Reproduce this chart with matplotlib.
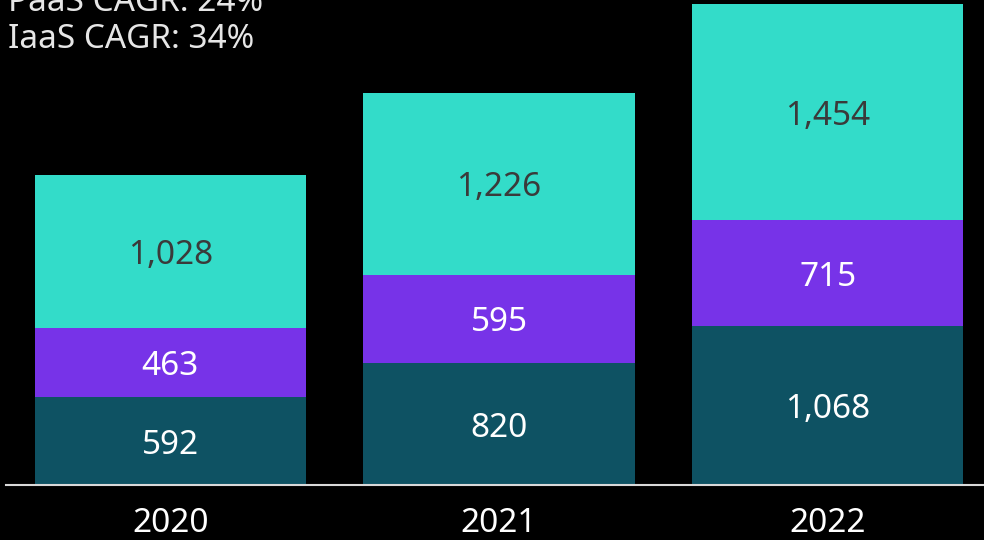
import matplotlib
matplotlib.use("Agg")
import matplotlib.pyplot as plt

plt.rcParams['font.family'] = ['Noto Sans', 'DejaVu Sans']

years = ["2020", "2021", "2022"]
iaas = [592, 820, 1068]
paas = [463, 595, 715]
saas = [1028, 1226, 1454]
cagr_lines = ["PaaS CAGR: 24%", "IaaS CAGR: 34%"]

COL_IAAS = "#0e5263"
COL_PAAS = "#7733e8"
COL_SAAS = "#33dcc9"
FS = 24

fig = plt.figure(figsize=(9.84, 5.4), dpi=100, facecolor="black")
# axes slightly wider than the figure so the baseline runs off the right edge
ax = fig.add_axes([6 / 984, 55 / 540, 986 / 984, 481 / 540])
ax.set_facecolor("black")

x = list(range(len(years)))
w = 0.825
bottom3 = [a + b for a, b in zip(iaas, paas)]
ax.bar(x, iaas, w, color=COL_IAAS)
ax.bar(x, paas, w, bottom=iaas, color=COL_PAAS)
ax.bar(x, saas, w, bottom=bottom3, color=COL_SAAS)

for i in x:
    ax.text(i, iaas[i] / 2, f"{iaas[i]:,}", ha="center", va="center_baseline",
            color="white", fontsize=FS)
    ax.text(i, iaas[i] + paas[i] / 2, f"{paas[i]:,}", ha="center", va="center_baseline",
            color="white", fontsize=FS)
    ax.text(i, bottom3[i] + saas[i] / 2, f"{saas[i]:,}", ha="center", va="center_baseline",
            color="#3a3a3a", fontsize=FS)

ax.set_xlim(-0.5, 2.5)
ax.set_ylim(0, 3237)
for s in ["top", "right", "left"]:
    ax.spines[s].set_visible(False)
ax.spines["bottom"].set_color("#d9d9d9")
ax.spines["bottom"].set_linewidth(1.5)
ax.set_yticks([])
ax.set_xticks(x)
ax.set_xticklabels(years, color="white", fontsize=FS)
ax.tick_params(axis="x", length=0, pad=16)

fig.text(8 / 984, 1 - 11 / 540, cagr_lines[0], color="#e6e6e6", fontsize=FS, va="baseline")
fig.text(8 / 984, 1 - 48 / 540, cagr_lines[1], color="#e6e6e6", fontsize=FS, va="baseline")

fig.savefig("out.png", dpi=100, facecolor="black")
